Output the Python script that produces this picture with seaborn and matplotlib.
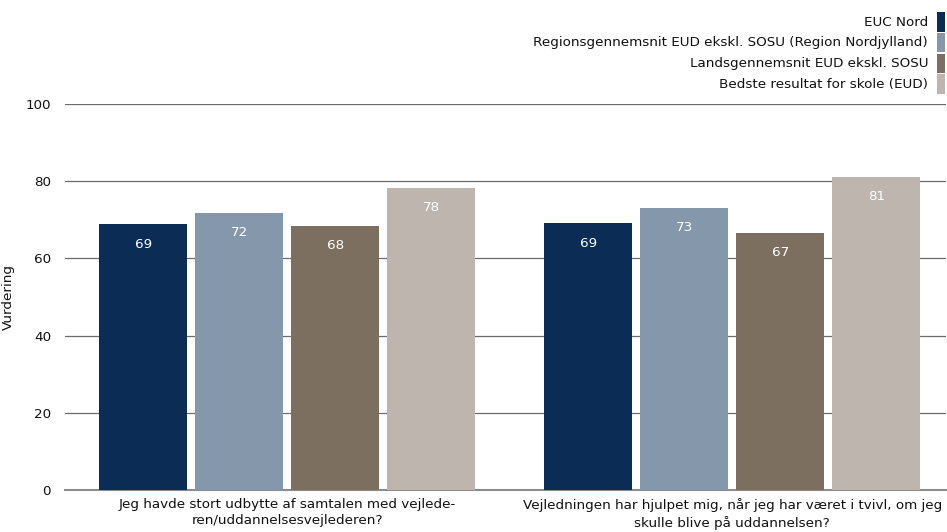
import matplotlib
matplotlib.use("Agg")
import matplotlib.pyplot as plt
from matplotlib.patches import Rectangle
import seaborn as sns
import pandas as pd

questions = [
    "Jeg havde stort udbytte af samtalen med vejlede-\nren/uddannelsesvejlederen?",
    "Vejledningen har hjulpet mig, når jeg har været i tvivl, om jeg\nskulle blive på uddannelsen?",
]
series = [
    "EUC Nord",
    "Regionsgennemsnit EUD ekskl. SOSU (Region Nordjylland)",
    "Landsgennemsnit EUD ekskl. SOSU",
    "Bedste resultat for skole (EUD)",
]
euc_nord = [68.8, 69.1]
region = [71.8, 73.1]
lands = [68.4, 66.6]
bedste = [78.3, 81.2]
colors = ["#0b2d55", "#8497ab", "#7d6f5f", "#bdb5ae"]

rows = []
for s, vals in zip(series, [euc_nord, region, lands, bedste]):
    for q, v in zip(questions, vals):
        rows.append({"Spørgsmål": q, "Serie": s, "Vurdering": v})
df = pd.DataFrame(rows)

sns.set_theme(style="white")
plt.rcParams["font.family"] = ["DejaVu Sans"]

FS = 9.7
W, H = 947, 532
fig = plt.figure(figsize=(9.47, 5.32), dpi=100)
ax = fig.add_axes([65 / W, 1 - 490 / H, (946 - 65) / W, (490 - 104) / H])

sns.barplot(data=df, x="Spørgsmål", y="Vurdering", hue="Serie", order=questions,
            hue_order=series, palette=colors, width=0.863, gap=0.083,
            saturation=1, legend=False, ax=ax, errorbar=None, zorder=3,
            linewidth=0, edgecolor="none")

for cont in ax.containers:
    ax.bar_label(cont, labels=[f"{round(b.get_height()):d}" for b in cont],
                 padding=-19, color="white", fontsize=FS)

ax.set_ylim(0, 100)
ax.set_xlim(-0.5, 1.48)
ax.set_yticks([0, 20, 40, 60, 80, 100])
ax.yaxis.grid(True, color="#6b6b6b", linewidth=0.9)
ax.set_axisbelow(True)
for sp in ["left", "right", "top"]:
    ax.spines[sp].set_visible(False)
ax.spines["bottom"].set_color("#8c8c8c")
ax.spines["bottom"].set_linewidth(1.5)
ax.tick_params(axis="y", length=0, pad=10, labelsize=FS, labelcolor="#111111")
ax.tick_params(axis="x", length=0, pad=6, labelsize=FS, labelcolor="#111111")
for t in ax.get_xticklabels():
    t.set_linespacing(1.3)
ax.set_xlabel("")
ax.set_ylabel("Vurdering", fontsize=FS, color="#111111")
ax.yaxis.set_label_coords((15 - 65) / (946 - 65), 0.5)

# legend (right-aligned labels with colour boxes to the right)
for i, (s, c) in enumerate(zip(series, colors)):
    yc = 22 + i * 20.7
    fig.text(928 / W, 1 - yc / H, s, ha="right", va="center", fontsize=FS,
             color="#111111")
    fig.patches.append(Rectangle((937 / W, 1 - (yc + 9.7) / H), 8 / W, 19.4 / H,
                                 transform=fig.transFigure, facecolor=c,
                                 edgecolor="none", figure=fig))

fig.savefig("out.png", dpi=100)
